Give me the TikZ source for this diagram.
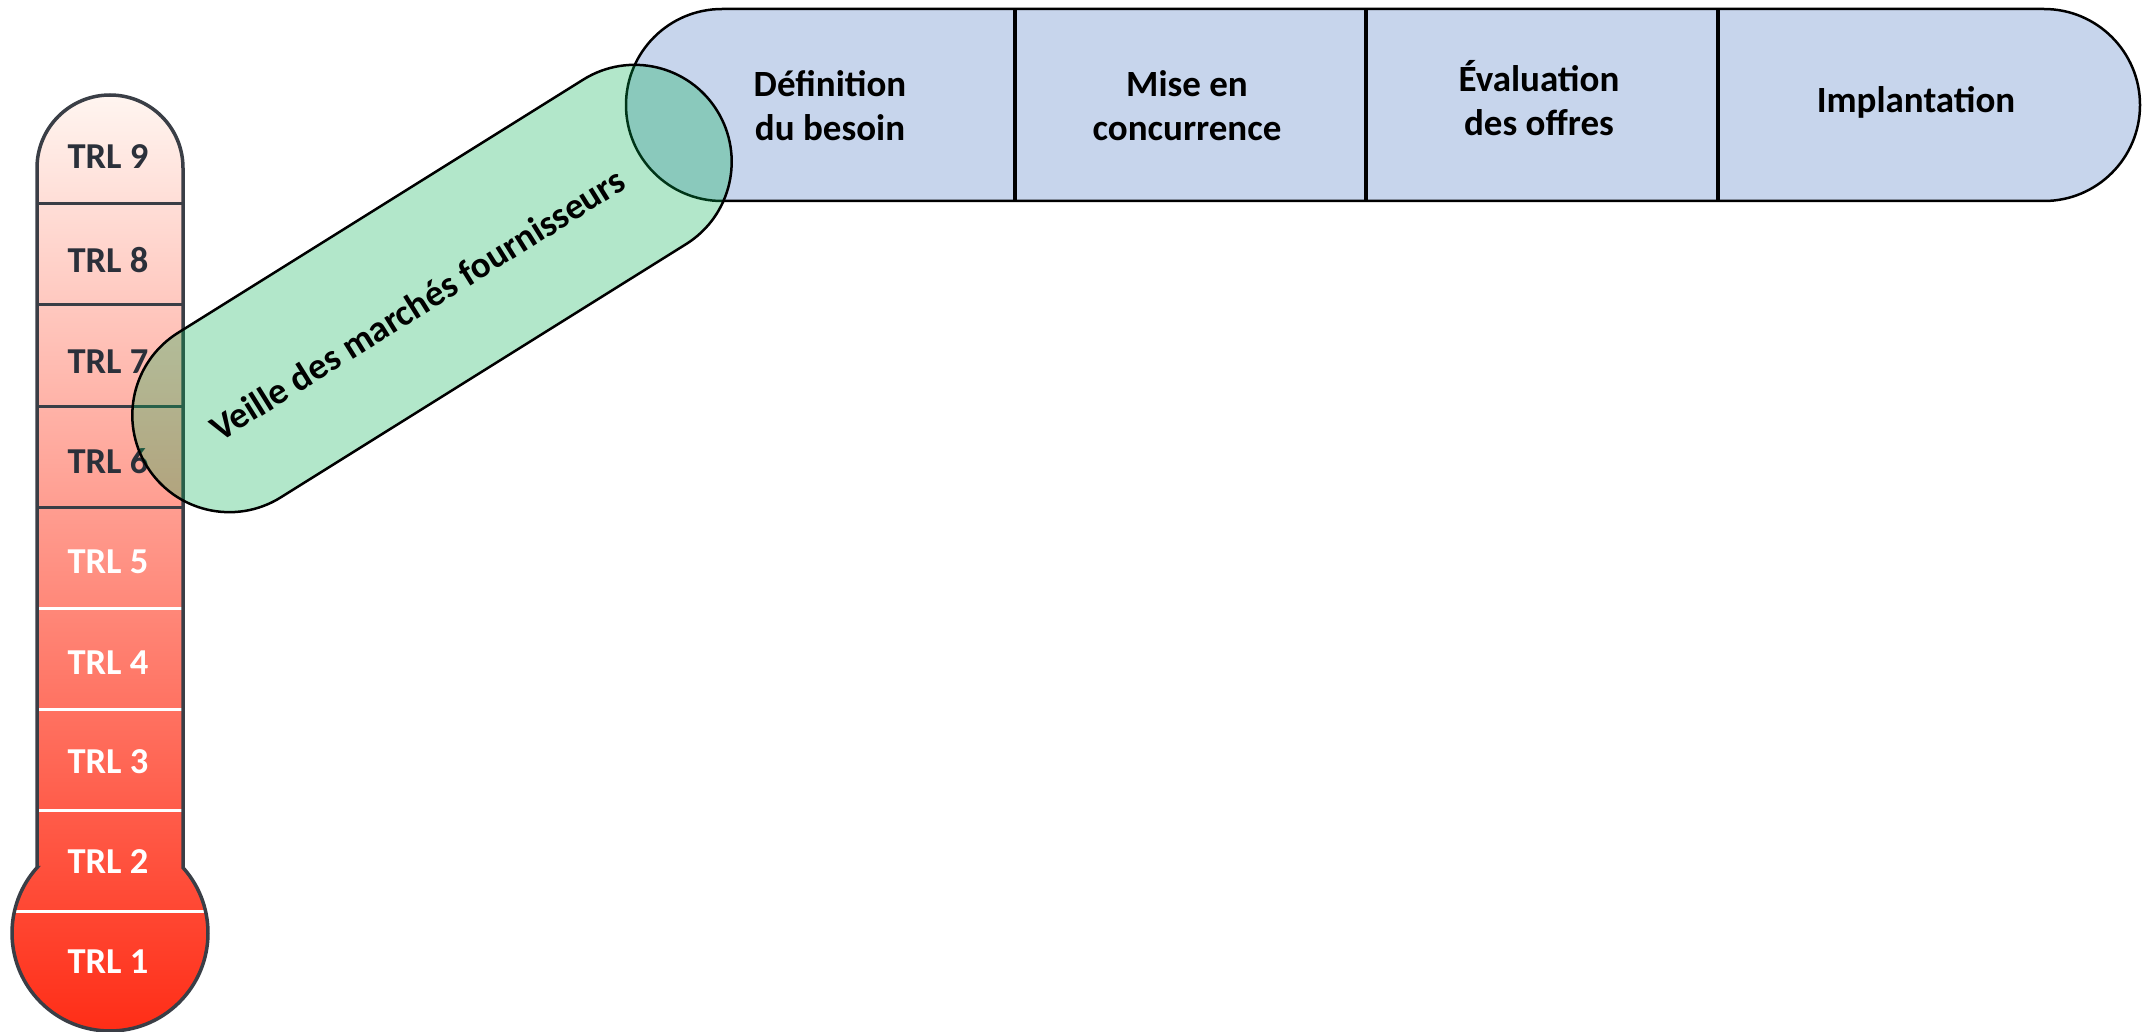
\documentclass[tikz,border=0pt]{standalone}
\usepackage{fontspec}
\setmainfont{Carlito}
\usetikzlibrary{shapes.misc}
\definecolor{barblue}{HTML}{C7D5EC}
\definecolor{pillgreen}{HTML}{00B050}
\definecolor{thermoedge}{HTML}{3A3E46}
\definecolor{thermotop}{HTML}{FFF5F0}
\definecolor{thermomid}{HTML}{FF9572}
\definecolor{thermobot}{HTML}{FF2B14}
\definecolor{darklbl}{HTML}{2B303A}
\newcommand\thermoshape{(37,867.6) -- (37,168) arc[start angle=180,end angle=360,radius=73] -- (183,867.6) arc[start angle=-41.85,end angle=221.85,radius=98] -- cycle}
\begin{document}
\begin{tikzpicture}[x=1pt,y=-1pt,
  stagetxt/.style={anchor=base,inner sep=0pt,font=\fontsize{37}{44}\selectfont\bfseries,text=black},
  trltxt/.style={anchor=base,inner sep=0pt,font=\fontsize{36.5}{40}\selectfont\bfseries},
  trldark/.style={trltxt,text=darklbl},
  trllight/.style={trltxt,text=white},
  darksep/.style={draw=thermoedge,line width=3},
  lightsep/.style={draw=white,line width=3},
  stagesep/.style={draw=black,line width=4.5},
  barshape/.style={rounded rectangle,draw=black,line width=2.5,fill=barblue,inner sep=0pt},
  pillshape/.style={rounded rectangle,draw=black,line width=2.5,fill=pillgreen,fill opacity=0.3,draw opacity=1,inner sep=0pt}]
\useasboundingbox (0,0) rectangle (2144,1032);

% process bar
\node[barshape,minimum width=1514pt,minimum height=192pt] (bar) at (1383,105) {};
\draw[stagesep] (1015,10) -- (1015,200);
\draw[stagesep] (1366,10) -- (1366,200);
\draw[stagesep] (1718,10) -- (1718,200);

% thermometer
\shade[top color=thermotop,middle color=thermomid,bottom color=thermobot] \thermoshape;
\draw[darksep] (37,204) -- (183,204);
\draw[darksep] (37,305) -- (183,305);
\draw[darksep] (37,406) -- (183,406);
\draw[darksep] (37,507) -- (183,507);
\draw[lightsep] (38,608) -- (182,608);
\draw[lightsep] (38,709) -- (182,709);
\draw[lightsep] (38,810) -- (182,810);
\draw[lightsep] (15,911) -- (205,911);
\draw[draw=thermoedge,line width=3.5] \thermoshape;

\node[trldark] (t9) at (108,169) {TRL 9};
\node[trldark] (t8) at (108,273) {TRL 8};
\node[trldark] (t7) at (108,373) {TRL 7};
\node[trldark] (t6) at (108,473) {TRL 6};
\node[trllight] (t5) at (108,573) {TRL 5};
\node[trllight] (t4) at (108,674) {TRL 4};
\node[trllight] (t3) at (108,773) {TRL 3};
\node[trllight] (t2) at (108,873) {TRL 2};
\node[trllight] (t1) at (108,973) {TRL 1};

% green pill
\node[pillshape,rotate=32,minimum width=672pt,minimum height=194pt] (pill) at (432,288.5) {};
\node[stagetxt,rotate=32] (veille) at (424,315) {Veille des marchés fournisseurs};

% stage labels
\node[stagetxt] (def1) at (830,97) {Définition};
\node[stagetxt] (def2) at (830,141) {du besoin};
\node[stagetxt] (mise1) at (1187,97) {Mise en};
\node[stagetxt] (mise2) at (1187,141) {concurrence};
\node[stagetxt] (eval1) at (1539,92) {Évaluation};
\node[stagetxt] (eval2) at (1539,136) {des offres};
\node[stagetxt] (impl) at (1916,113) {Implantation};
\end{tikzpicture}
\end{document}
